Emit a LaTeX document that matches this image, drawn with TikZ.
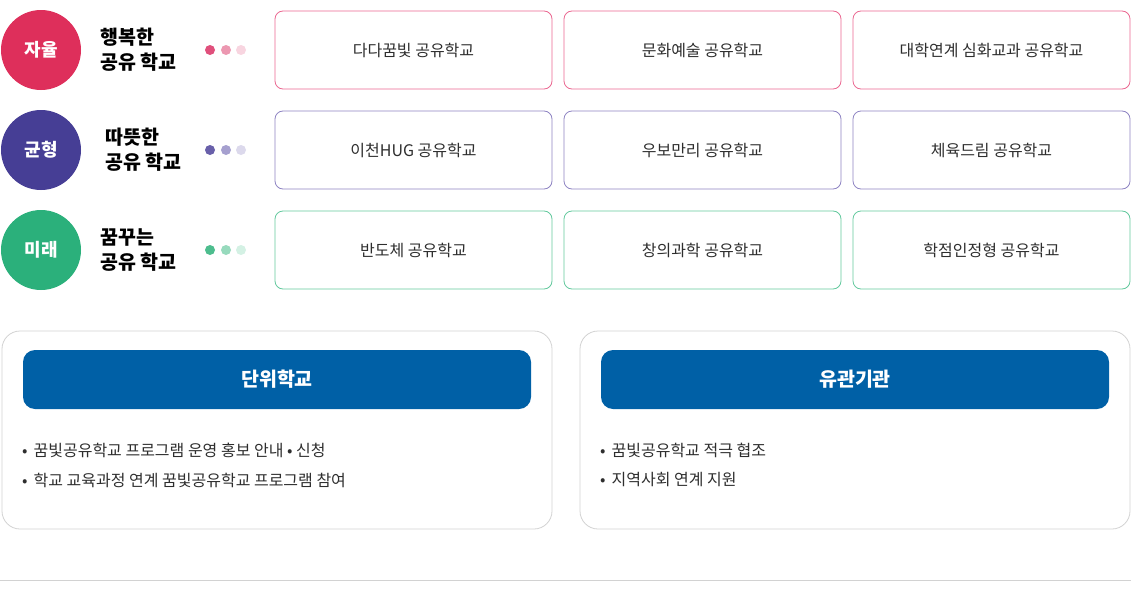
\documentclass[tikz,border=0pt]{standalone}
\usepackage{fontspec}
\setmainfont{Noto Sans CJK KR}
\usepackage{tikz}
\usetikzlibrary{positioning}

\definecolor{jaYul}{HTML}{DE2F5B}
\definecolor{jaYulA}{HTML}{E0507C}
\definecolor{jaYulB}{HTML}{EC98B1}
\definecolor{jaYulC}{HTML}{F8D5E0}
\definecolor{jaYulLine}{HTML}{EA6791}
\definecolor{gyun}{HTML}{463E95}
\definecolor{gyunA}{HTML}{6960AA}
\definecolor{gyunB}{HTML}{A6A0CF}
\definecolor{gyunC}{HTML}{DCD9EC}
\definecolor{gyunLine}{HTML}{8D83C2}
\definecolor{mirae}{HTML}{2BB07B}
\definecolor{miraeA}{HTML}{4DBD8E}
\definecolor{miraeB}{HTML}{97DABD}
\definecolor{miraeC}{HTML}{D4F1E4}
\definecolor{miraeLine}{HTML}{62C89D}
\definecolor{headBlue}{HTML}{0060A6}
\definecolor{panelLine}{HTML}{D2D2D2}
\definecolor{txt}{HTML}{2E2E2E}

\begin{document}
\begin{tikzpicture}[x=1pt, y=-1pt,
    badge/.style={circle, minimum size=80pt, inner sep=0pt, text=white, font=\fontsize{18}{18}\selectfont\bfseries},
    motto/.style={anchor=west, align=left, inner sep=0pt, text=black, font=\fontsize{19.5}{25}\selectfont\bfseries},
    dot/.style={circle, minimum size=10pt, inner sep=0pt},
    school/.style={draw, rounded corners=8pt, line width=0.8pt, minimum width=277pt, minimum height=78pt, text=txt, font=\fontsize{16}{16}\selectfont},
    panel/.style={draw=panelLine, rounded corners=18pt, line width=0.8pt, minimum width=550pt, minimum height=198pt},
    header/.style={fill=headBlue, rounded corners=12pt, minimum width=508pt, minimum height=59pt, text=white, font=\fontsize{19.5}{19.5}\selectfont\bfseries},
    item/.style={anchor=west, inner sep=0pt, text=txt, font=\fontsize{16}{16}\selectfont}]

    \useasboundingbox (0,0) rectangle (1133,589);

    % row 1
    \node[badge, fill=jaYul] (r1) at (41,50) {자율};
    \node[motto] (m1) at (100,50) {행복한\\공유 학교};
    \node[dot, fill=jaYulA] (d11) at (210,50) {};
    \node[dot, fill=jaYulB] (d12) at (226,50) {};
    \node[dot, fill=jaYulC] (d13) at (241,50) {};
    \node[school, draw=jaYulLine] (s11) at (413.5,50) {다다꿈빛 공유학교};
    \node[school, draw=jaYulLine] (s12) at (702.5,50) {문화예술 공유학교};
    \node[school, draw=jaYulLine] (s13) at (991.5,50) {대학연계 심화교과 공유학교};

    % row 2
    \node[badge, fill=gyun] (r2) at (41,150) {균형};
    \node[motto] (m2) at (105,150) {따뜻한\\공유 학교};
    \node[dot, fill=gyunA] (d21) at (210,150) {};
    \node[dot, fill=gyunB] (d22) at (226,150) {};
    \node[dot, fill=gyunC] (d23) at (241,150) {};
    \node[school, draw=gyunLine] (s21) at (413.5,150) {이천HUG 공유학교};
    \node[school, draw=gyunLine] (s22) at (702.5,150) {우보만리 공유학교};
    \node[school, draw=gyunLine] (s23) at (991.5,150) {체육드림 공유학교};

    % row 3
    \node[badge, fill=mirae] (r3) at (41,250) {미래};
    \node[motto] (m3) at (100,250) {꿈꾸는\\공유 학교};
    \node[dot, fill=miraeA] (d31) at (210,250) {};
    \node[dot, fill=miraeB] (d32) at (226,250) {};
    \node[dot, fill=miraeC] (d33) at (241,250) {};
    \node[school, draw=miraeLine] (s31) at (413.5,250) {반도체 공유학교};
    \node[school, draw=miraeLine] (s32) at (702.5,250) {창의과학 공유학교};
    \node[school, draw=miraeLine] (s33) at (991.5,250) {학점인정형 공유학교};

    % bottom panels
    \node[panel] (pl) at (277,430) {};
    \node[header] (hl) at (277,379.5) {단위학교};
    \node[item] (il1) at (22,450) {•\hspace{6pt}꿈빛공유학교 프로그램 운영 홍보 안내 • 신청};
    \node[item] (il2) at (22,480) {•\hspace{6pt}학교 교육과정 연계 꿈빛공유학교 프로그램 참여};

    \node[panel] (pr) at (855,430) {};
    \node[header] (hr) at (855,379.5) {유관기관};
    \node[item] (ir1) at (600,450) {•\hspace{6pt}꿈빛공유학교 적극 협조};
    \node[item] (ir2) at (600,480) {•\hspace{6pt}지역사회 연계 지원};

    \draw[panelLine, line width=0.8pt] (0,580.5) -- (1131,580.5);

\end{tikzpicture}
\end{document}
